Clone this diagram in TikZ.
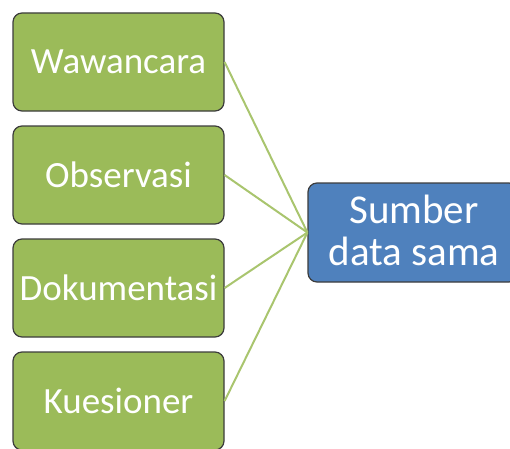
\documentclass[tikz,border=0pt]{standalone}
\usepackage{fontspec}
\setmainfont{Carlito}
\definecolor{boxgreen}{HTML}{9BBB59}
\definecolor{boxblue}{HTML}{4F81BD}
\definecolor{linegreen}{HTML}{A9C56E}
\definecolor{edgegray}{HTML}{3C3C3C}
\begin{document}
\begin{tikzpicture}[x=1pt,y=1pt,
  gbox/.style={draw=edgegray, line width=1.2pt, fill=boxgreen, rounded corners=9pt,
    minimum width=211pt, minimum height=98pt, text=white, font=\fontsize{37}{40}\selectfont, inner sep=0pt},
  bbox/.style={draw=edgegray, line width=1.2pt, fill=boxblue, rounded corners=9pt,
    minimum width=210pt, minimum height=99pt, text=white, font=\fontsize{41}{42}\selectfont, inner sep=0pt, align=center},
  conn/.style={draw=linegreen, line width=2pt}]
\useasboundingbox (0,0) rectangle (510,448);
\clip (0,0) rectangle (510,448);
\node[gbox] (w) at (118.5,386) {Wawancara};
\node[gbox] (o) at (118.5,273) {Observasi};
\node[gbox] (d) at (118.5,160) {Dokumentasi};
\node[gbox] (k) at (118.5,47) {Kuesioner};
\node[bbox] (s) at (413,215.5) {};
\node[text=white, font=\fontsize{41}{42}\selectfont, align=center, inner sep=0pt] (st) at (414,218) {Sumber\\data sama};
\draw[conn] (w.east) -- (s.west);
\draw[conn] (o.east) -- (s.west);
\draw[conn] (d.east) -- (s.west);
\draw[conn] (k.east) -- (s.west);
\end{tikzpicture}
\end{document}
